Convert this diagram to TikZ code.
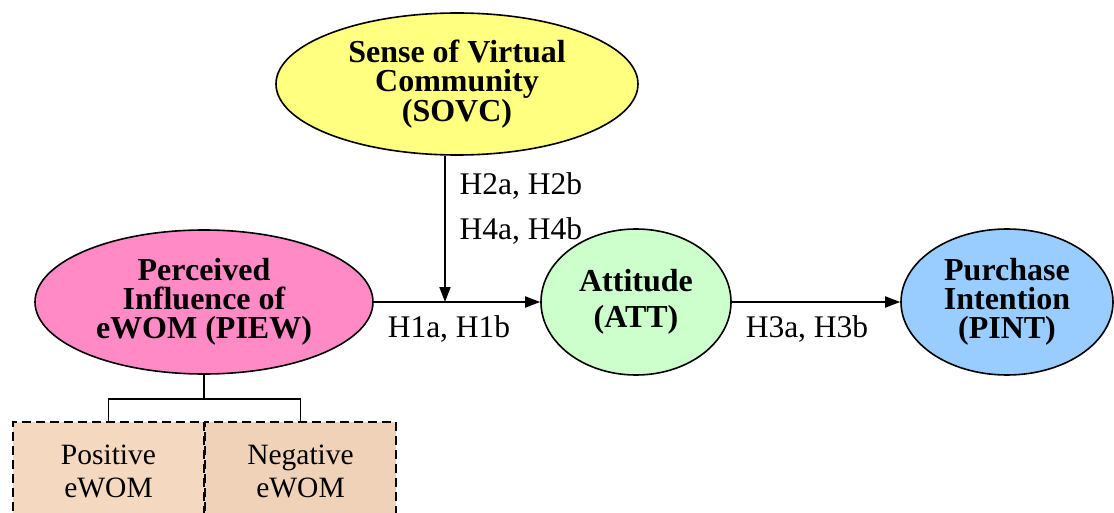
\documentclass[tikz,border=0pt]{standalone}
\usepackage{fontspec}
\setmainfont{Liberation Serif}
\usetikzlibrary{arrows.meta,shapes.geometric}
\definecolor{sovcyellow}{HTML}{FFFF80}
\definecolor{piewpink}{HTML}{FF8AC6}
\definecolor{attgreen}{HTML}{CCFFCC}
\definecolor{pintblue}{HTML}{99CCFF}
\definecolor{posbeige}{HTML}{F5D8C0}
\definecolor{negbeige}{HTML}{F0D2B8}
\tikzset{
  construct/.style={ellipse, draw, line width=1.6pt, inner sep=0pt, align=center,
    font=\bfseries\fontsize{32}{29}\selectfont},
  facet/.style={rectangle, draw, dash pattern=on 9pt off 5pt, line width=1.5pt,
    minimum width=191pt, minimum height=98pt, align=center,
    font=\fontsize{29.5}{33}\selectfont},
  hyp/.style={align=left, font=\fontsize{31.5}{45}\selectfont},
  effect/.style={line width=1.8pt, -{Triangle[length=15pt,width=11pt]}},
  link/.style={line width=1.5pt}
}
\begin{document}
\begin{tikzpicture}[x=1pt, y=-1pt]
\useasboundingbox (0,0) rectangle (1114,513);

% constructs
\node[construct, fill=sovcyellow, minimum width=362pt, minimum height=142pt] (sovc) at (457,84) {Sense of Virtual\\Community\\(SOVC)};
\node[construct, fill=piewpink, minimum width=338pt, minimum height=144pt] (piew) at (204,302) {Perceived\\Influence of\\eWOM (PIEW)};
\node[construct, fill=attgreen, minimum width=190pt, minimum height=146pt,
  font=\bfseries\fontsize{32}{36}\selectfont] (att) at (636,302) {Attitude\\(ATT)};
\node[construct, fill=pintblue, minimum width=212pt, minimum height=146pt] (pint) at (1007,302) {Purchase\\Intention\\(PINT)};

% eWOM valence
\node[facet, fill=posbeige] (pos) at (108.5,471) {Positive\\eWOM};
\node[facet, fill=negbeige] (neg) at (300.5,471) {Negative\\eWOM};

% paths
\coordinate (join) at (445,302);
\coordinate (fork) at (204,399);
\draw[effect] (piew) -- (att);
\draw[effect] (att) -- (pint);
\draw[effect] (join |- sovc.south) -- (join);
\draw[link] (piew.south) -- (fork);
\draw[link] (pos.north) |- (fork) -| (neg.north);

% hypotheses
\node[hyp, anchor=west] (h24) at (456,208) {H2a, H2b\\H4a, H4b};
\node[hyp] (h1) at (449,329) {H1a, H1b};
\node[hyp] (h3) at (807,329) {H3a, H3b};

\end{tikzpicture}
\end{document}
